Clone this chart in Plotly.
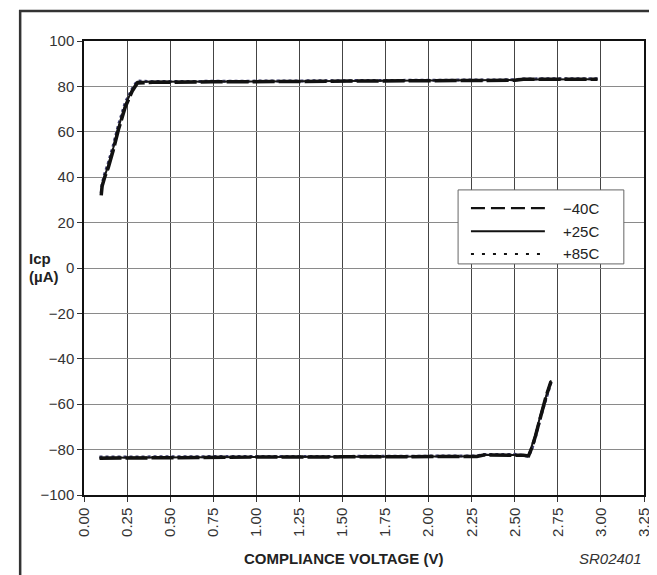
import plotly.graph_objects as go

# ---- data ----
x_ticks = [0.00, 0.25, 0.50, 0.75, 1.00, 1.25, 1.50, 1.75, 2.00, 2.25, 2.50, 2.75, 3.00, 3.25]
x_ticktext = ["0.00", "0.25", "0.50", "0.75", "1.00", "1.25", "1.50", "1.75", "2.00",
              "2.25", "2.50", "2.75", "3.00", "3.25"]
y_ticks = [100, 80, 60, 40, 20, 0, -20, -40, -60, -80, -100]
y_ticktext = ["100", "80", "60", "40", "20", "0", "\u221220", "\u221240", "\u221260", "\u221280", "\u2212100"]

# upper branch (source current)
v_up = [0.10, 0.105, 0.12, 0.14, 0.17, 0.20, 0.24, 0.28, 0.31, 0.33, 0.40, 0.75, 1.00, 1.50, 2.00, 2.40, 2.50, 2.55, 2.75, 2.98]
i_up_m40 = [32.0, 36.0, 40.0, 44.0, 52.0, 61.0, 71.0, 78.0, 81.5, 81.6, 81.8, 82.0, 82.1, 82.3, 82.4, 82.5, 82.7, 83.1, 83.2, 83.2]
i_up_p25 = [32.5, 36.5, 40.5, 45.0, 53.0, 62.0, 72.0, 78.5, 82.0, 82.0, 82.0, 82.1, 82.2, 82.4, 82.5, 82.6, 82.8, 83.0, 83.1, 83.1]
i_up_p85 = [33.0, 37.0, 41.5, 46.0, 54.0, 63.0, 73.0, 79.0, 82.5, 82.3, 82.1, 82.2, 82.3, 82.5, 82.6, 82.7, 82.9, 83.3, 83.4, 83.4]

# lower branch (sink current)
v_lo = [0.09, 0.30, 0.60, 1.00, 1.50, 2.00, 2.28, 2.32, 2.50, 2.55, 2.58, 2.60, 2.62, 2.65, 2.68, 2.71]
i_lo_m40 = [-83.8, -83.6, -83.4, -83.3, -83.2, -83.1, -83.0, -82.4, -82.3, -82.5, -82.8, -79.0, -74.0, -65.0, -57.0, -50.0]
i_lo_p25 = [-83.6, -83.5, -83.3, -83.2, -83.1, -83.0, -82.9, -82.3, -82.2, -82.4, -82.6, -78.5, -73.5, -64.5, -56.5, -49.5]
i_lo_p85 = [-83.3, -83.2, -83.1, -83.0, -83.0, -82.9, -82.8, -82.2, -82.1, -82.6, -83.0, -79.5, -74.5, -65.5, -57.5, -50.5]

series_names = ["\u221240C", "+25C", "+85C"]

FONT = "Liberation Sans, Arial, sans-serif"

fig = go.Figure()

styles = [
    dict(name=series_names[2], up=i_up_p85, lo=i_lo_p85, color="#3d3d70", dash="3px,3px", width=3),
    dict(name=series_names[1], up=i_up_p25, lo=i_lo_p25, color="#151515", dash="solid", width=2),
    dict(name=series_names[0], up=i_up_m40, lo=i_lo_m40, color="#111111", dash="22px,4px", width=3.5),
]
for s in styles:
    for yy, vv in ((s["up"], v_up), (s["lo"], v_lo)):
        fig.add_trace(go.Scatter(x=vv, y=yy, mode="lines", name=s["name"], showlegend=False,
                                 line=dict(color=s["color"], dash=s["dash"], width=s["width"])))

fig.update_layout(
    width=657, height=575,
    margin=dict(l=76, r=21, t=33, b=88),
    paper_bgcolor="white", plot_bgcolor="white",
    font=dict(family=FONT, size=15, color="#222"),
    showlegend=False,
)
fig.update_xaxes(range=[0, 3.25], tickmode="array", tickvals=x_ticks, ticktext=x_ticktext,
                 tickangle=-90, showgrid=True, gridcolor="#444", gridwidth=1,
                 showline=True, linecolor="#111", linewidth=1.5, mirror=True,
                 ticks="outside", ticklen=5, tickcolor="#333", zeroline=False,
                 tickfont=dict(size=15, color="#333"))
fig.update_yaxes(range=[-100, 100], tickmode="array", tickvals=y_ticks, ticktext=y_ticktext,
                 showgrid=True, gridcolor="#8a8a8a", gridwidth=1,
                 showline=True, linecolor="#111", linewidth=1.5, mirror=True,
                 ticks="outside", ticklen=5, tickcolor="#333", zeroline=False,
                 tickfont=dict(size=15, color="#333"))

# outer frame
fig.add_shape(type="rect", xref="paper", yref="paper", x0=-0.114, x1=1.0196, y0=-0.189, y1=1.066,
              line=dict(color="#333", width=2.5), fillcolor="rgba(0,0,0,0)", layer="above")

# manual legend
fig.add_shape(type="rect", xref="paper", yref="paper", x0=0.668, x1=0.964, y0=0.509, y1=0.672,
              line=dict(color="#666", width=1), fillcolor="white", layer="above")
leg_rows = [(0.632, "14px,6px", 2.2), (0.581, "solid", 2), (0.531, "3px,8px", 2)]
for (yy, dash, w), name in zip(leg_rows, series_names):
    fig.add_shape(type="line", xref="paper", yref="paper", x0=0.691, x1=0.823, y0=yy, y1=yy,
                  line=dict(color="#111", dash=dash, width=w), layer="above")
    fig.add_annotation(xref="paper", yref="paper", x=0.852, y=yy, text=name, showarrow=False,
                       xanchor="left", yanchor="middle", font=dict(size=15, color="#222"))

# axis titles / notes
fig.add_annotation(xref="paper", yref="paper", x=-0.102, y=(487 - 250) / 454, text="<b>Icp</b>",
                   showarrow=False, xanchor="left", yanchor="middle", font=dict(size=15, color="#222"))
fig.add_annotation(xref="paper", yref="paper", x=-0.102, y=(487 - 268) / 454, text="<b>(\u00b5A)</b>",
                   showarrow=False, xanchor="left", yanchor="middle", font=dict(size=15, color="#222"))
fig.add_annotation(xref="paper", yref="paper", x=0.4625, y=(487 - 550) / 454,
                   text="<b>COMPLIANCE VOLTAGE (V)</b>", showarrow=False,
                   xanchor="center", yanchor="middle", font=dict(size=15, color="#222"))
fig.add_annotation(xref="paper", yref="paper", x=1.0, y=(487 - 550) / 454,
                   text="<i>SR02401</i>", showarrow=False,
                   xanchor="right", yanchor="middle", font=dict(size=15, color="#333"))

fig.write_html("out.html")
